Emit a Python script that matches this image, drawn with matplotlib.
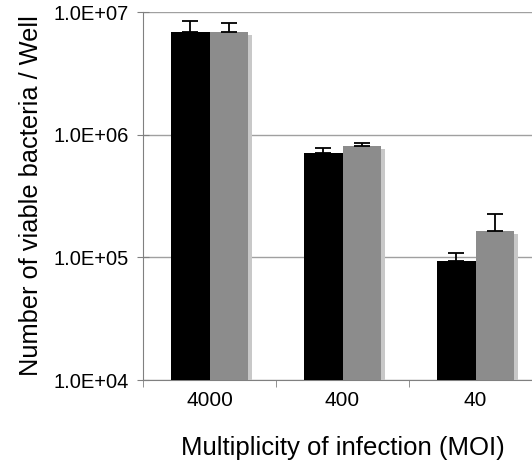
import numpy as np
import matplotlib.pyplot as plt
import matplotlib.patheffects as pe

plt.rcParams['font.family'] = ['Liberation Sans', 'DejaVu Sans']

moi = ['4000', '400', '40']
black_vals = [6.87e6, 7.13e5, 9.3e4]
black_err = [1.58e6, 0.67e5, 1.5e4]
gray_vals = [6.85e6, 8.1e5, 1.63e5]
gray_err = [1.25e6, 0.5e5, 0.62e5]
ytick_vals = [1e4, 1e5, 1e6, 1e7]
ytick_labels = ['1.0E+04', '1.0E+05', '1.0E+06', '1.0E+07']

fig = plt.figure(figsize=(5.32, 4.66), dpi=100)
ax = fig.add_axes([143/532, 86/466, 399/532, 368/466])

x = np.arange(len(moi))
w = 0.29
ax.bar(x - w/2, black_vals, w, color='black', zorder=3)
ax.errorbar(x - w/2, black_vals, yerr=[np.zeros(3), black_err], fmt='none',
            ecolor='black', elinewidth=1.3, capsize=6, capthick=1.3, zorder=4)
gb = ax.bar(x + w/2, gray_vals, w, color='#8c8c8c', zorder=3)
for p in gb:
    p.set_path_effects([pe.SimplePatchShadow(offset=(3, -2), shadow_rgbFace='#c8c8c8', alpha=1.0),
                        pe.Normal()])
ax.errorbar(x + w/2, gray_vals, yerr=[np.zeros(3), gray_err], fmt='none',
            ecolor='black', elinewidth=1.3, capsize=6, capthick=1.3, zorder=4)

ax.set_yscale('log')
ax.set_ylim(1e4, 1e7)
ax.set_xlim(-0.5, 2.5)
ax.set_yticks(ytick_vals)
ax.set_yticklabels(ytick_labels, fontsize=14.5)
ax.minorticks_off()
ax.yaxis.grid(True, color='#a0a0a0', linewidth=1, zorder=0)

ax.set_xticks(x)
ax.set_xticklabels(moi, fontsize=15)
ax.set_xticks([-0.5, 0.5, 1.5, 2.5], minor=True)
ax.tick_params(axis='x', which='major', length=0, pad=8)
ax.tick_params(axis='x', which='minor', length=5, color='#808080')
ax.tick_params(axis='y', direction='inout', length=8, color='#808080', pad=6)

for s in ['top', 'right']:
    ax.spines[s].set_visible(False)
ax.spines['left'].set_color('#808080')
ax.spines['bottom'].set_color('#808080')

ax.set_xlabel('Multiplicity of infection (MOI)', fontsize=18.5, labelpad=19)
ax.set_ylabel('Number of viable bacteria / Well', fontsize=18.3, labelpad=8)

fig.savefig('out.png', dpi=100)
